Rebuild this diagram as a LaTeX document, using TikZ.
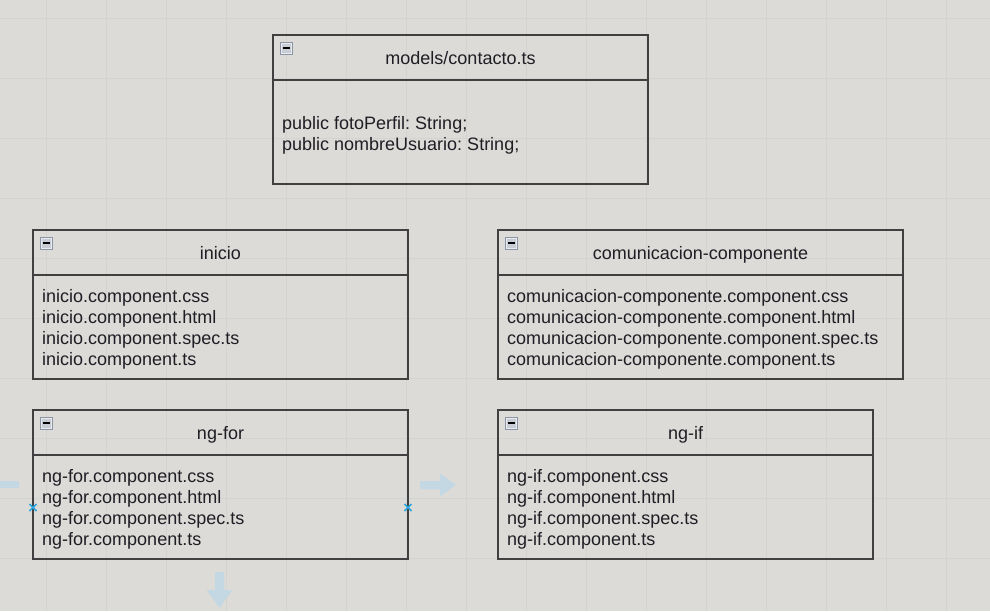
\documentclass[tikz,border=0pt]{standalone}
\usepackage{fontspec}
\setmainfont{Liberation Sans}
\frenchspacing
\definecolor{bgc}{HTML}{DCDBD8}
\definecolor{gridc}{HTML}{D3D3D1}
\definecolor{boxc}{HTML}{404040}
\definecolor{txt}{HTML}{1E1E24}
\definecolor{iconfill}{HTML}{C8CCD4}
\definecolor{icondraw}{HTML}{8C95A5}
\definecolor{arrowc}{HTML}{C3D8E2}
\definecolor{markc}{HTML}{2AA6DE}
\tikzset{
  hdr/.style={draw=boxc, line width=2pt, anchor=north west, inner sep=0pt, outer sep=0pt,
    minimum height=45pt, text height=13pt, text depth=0pt, font=\fontsize{18}{21}\selectfont, text=txt},
  bodybox/.style={draw=boxc, line width=2pt, anchor=north west, inner sep=0pt, outer sep=0pt,
    minimum height=104pt},
  bodytext/.style={anchor=west, inner sep=0pt, align=left, font=\fontsize{18}{21}\selectfont, text=txt},
  icon/.style={draw=icondraw, line width=1pt, fill=iconfill, minimum size=12pt, inner sep=0pt, outer sep=0pt,
    anchor=north west, path picture={
      \draw[white!60!iconfill, line width=1pt] ([shift={(1pt,-1pt)}]path picture bounding box.north west) rectangle ([shift={(-1pt,1pt)}]path picture bounding box.south east);
      \draw[black, line width=1.6pt] ([xshift=-3.5pt]path picture bounding box.center) -- ([xshift=3.5pt]path picture bounding box.center);}},
  blockarrow/.style={fill=arrowc, draw=none},
  marker/.style={draw=markc, line width=1.5pt}
}
\begin{document}
\begin{tikzpicture}[x=1pt, y=-1pt]
\useasboundingbox (0,0) rectangle (990,611);
\fill[bgc] (0,0) rectangle (990,611);
% grid
\foreach \i in {0,...,16} { \draw[gridc, line width=0.7pt] (46.67+60*\i,0) -- (46.67+60*\i,611); }
\foreach \j in {0,...,10} { \draw[gridc, line width=0.7pt] (0,18.33+60*\j) -- (990,18.33+60*\j); }

% block arrows
\fill[blockarrow] (0,481) rectangle (19,488);
\fill[blockarrow] (420,481) -- (440,481) -- (440,473.5) -- (456,484.75) -- (440,496.5) -- (440,489) -- (420,489) -- cycle;
\fill[blockarrow] (215,572) -- (224,572) -- (224,590) -- (232.5,590) -- (219.5,608) -- (206.5,590) -- (215,590) -- cycle;

% models/contacto.ts
\node[hdr, minimum width=375pt] (mh) at (273,35) {models/contacto.ts};
\node[bodybox, minimum width=375pt] (mb) at (273,80) {};
\node[bodytext] (mt) at ([xshift=9pt, yshift=-3pt]mb.west) {public fotoPerfil: String;\\public nombreUsuario: String;};
\node[icon] (mi) at (280,42) {};

% inicio
\node[hdr, minimum width=375pt] (ih) at (33,230) {inicio};
\node[bodybox, minimum width=375pt] (ib) at (33,275) {};
\node[bodytext] (it) at ([xshift=9pt, yshift=-2.5pt]ib.west) {inicio.component.css\\inicio.component.html\\inicio.component.spec.ts\\inicio.component.ts};
\node[icon] (ii) at (40,237) {};

% comunicacion-componente
\node[hdr, minimum width=405pt] (ch) at (498,230) {comunicacion-componente};
\node[bodybox, minimum width=405pt] (cb) at (498,275) {};
\node[bodytext] (ct) at ([xshift=9pt, yshift=-2.5pt]cb.west) {comunicacion-componente.component.css\\comunicacion-componente.component.html\\comunicacion-componente.component.spec.ts\\comunicacion-componente.component.ts};
\node[icon] (ci) at (505,237) {};

% ng-for
\node[hdr, minimum width=375pt] (fh) at (33,410) {ng-for};
\node[bodybox, minimum width=375pt] (fb) at (33,455) {};
\node[bodytext] (ft) at ([xshift=9pt, yshift=-2.5pt]fb.west) {ng-for.component.css\\ng-for.component.html\\ng-for.component.spec.ts\\ng-for.component.ts};
\node[icon] (fi) at (40,417) {};

% ng-if
\node[hdr, minimum width=375pt] (gh) at (498,410) {ng-if};
\node[bodybox, minimum width=375pt] (gb) at (498,455) {};
\node[bodytext] (gt) at ([xshift=9pt, yshift=-2.5pt]gb.west) {ng-if.component.css\\ng-if.component.html\\ng-if.component.spec.ts\\ng-if.component.ts};
\node[icon] (gi) at (505,417) {};

% connection markers
\coordinate (fl) at (33,507.5);
\coordinate (fr) at (408,507.5);
\draw[marker] ([shift={(-3.5pt,-3.5pt)}]fl) -- ([shift={(3.5pt,3.5pt)}]fl) ([shift={(-3.5pt,3.5pt)}]fl) -- ([shift={(3.5pt,-3.5pt)}]fl);
\draw[marker] ([shift={(-3.5pt,-3.5pt)}]fr) -- ([shift={(3.5pt,3.5pt)}]fr) ([shift={(-3.5pt,3.5pt)}]fr) -- ([shift={(3.5pt,-3.5pt)}]fr);
\end{tikzpicture}
\end{document}
